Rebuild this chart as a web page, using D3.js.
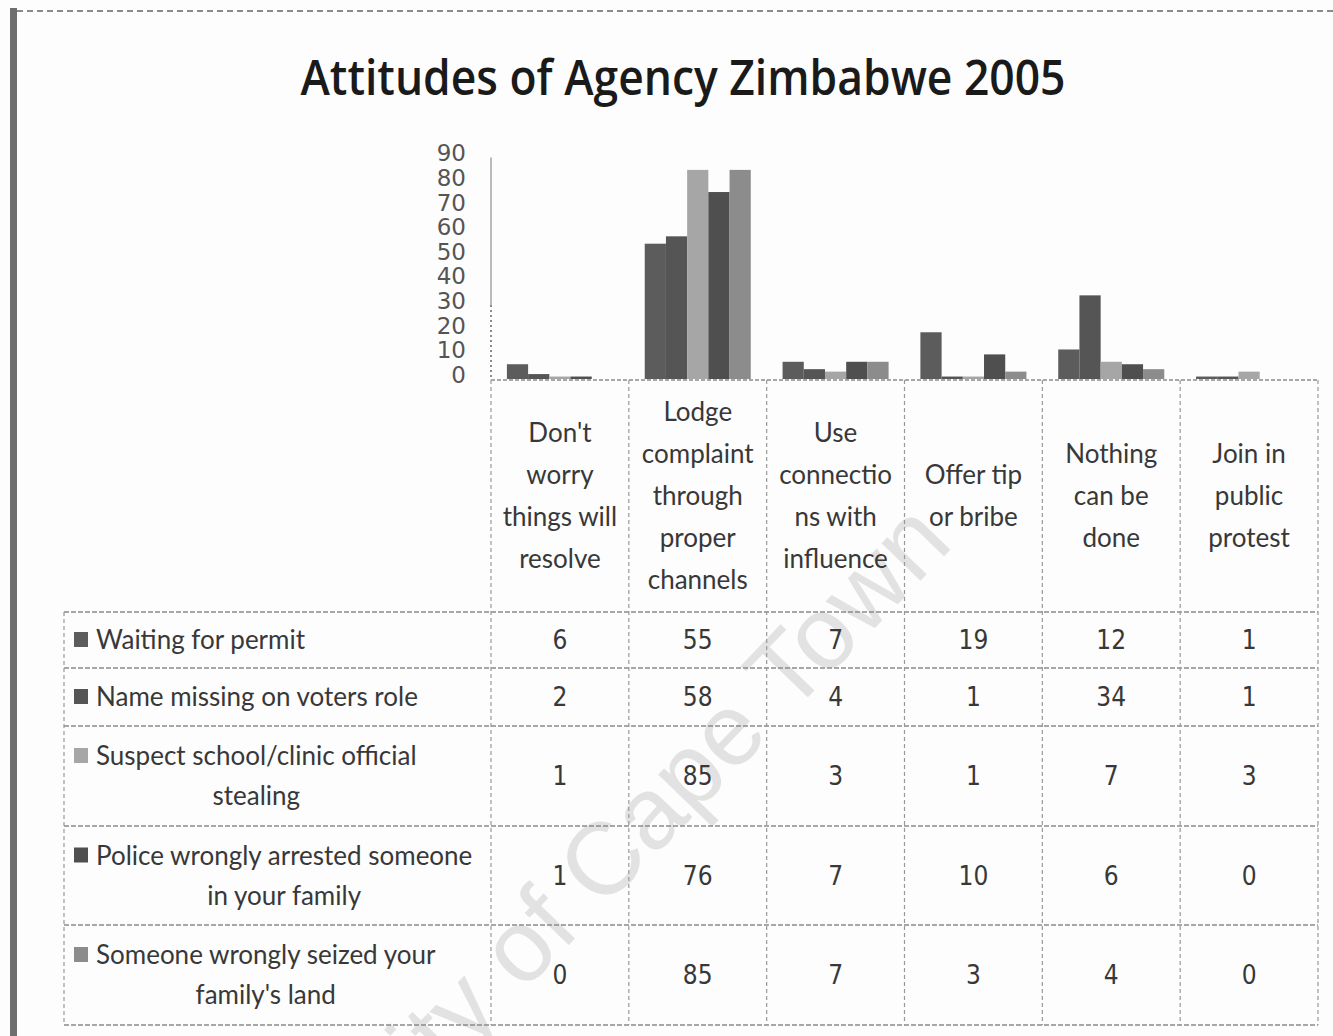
<!DOCTYPE html>
<html>
<head>
<meta charset="utf-8">
<script src="https://cdn.jsdelivr.net/npm/d3@7/dist/d3.min.js"></script>
<style>
  html, body { margin: 0; padding: 0; background: #fdfdfd; }
  svg { display: block; }
</style>
</head>
<body>
<svg id="chart" width="1333" height="1036"></svg>
<script>
// ---- data ----
const categories = [
  "Don't worry things will resolve",
  "Lodge complaint through proper channels",
  "Use connections with influence",
  "Offer tip or bribe",
  "Nothing can be done",
  "Join in public protest"
];
const categoryLines = [
  ["Don't", "worry", "things will", "resolve"],
  ["Lodge", "complaint", "through", "proper", "channels"],
  ["Use", "connectio", "ns with", "influence"],
  ["Offer tip", "or bribe"],
  ["Nothing", "can be", "done"],
  ["Join in", "public", "protest"]
];
const seriesNames = [
  "Waiting for permit",
  "Name missing on voters role",
  "Suspect school/clinic official stealing",
  "Police wrongly arrested someone in your family",
  "Someone wrongly seized your family's land"
];
const seriesLabelLines = [
  ["Waiting for permit"],
  ["Name missing on voters role"],
  ["Suspect school/clinic official", "stealing"],
  ["Police wrongly arrested someone", "in your family"],
  ["Someone wrongly seized your", "family's land"]
];
const waitingForPermit = [6, 55, 7, 19, 12, 1];
const nameMissing      = [2, 58, 4, 1, 34, 1];
const suspectOfficial  = [1, 85, 3, 1, 7, 3];
const policeArrest     = [1, 76, 7, 10, 6, 0];
const landSeized       = [0, 85, 7, 3, 4, 0];
const yTicks = [0, 10, 20, 30, 40, 50, 60, 70, 80, 90];

const seriesValues = [waitingForPermit, nameMissing, suspectOfficial, policeArrest, landSeized];
const seriesColors = ["#5c5c5c", "#555555", "#a6a6a6", "#4f4f4f", "#8c8c8c"];

// ---- layout ----
const svg = d3.select("#chart");
const W = 1333, H = 1036;
const plotLeft = 491, plotRight = 1318;
const baseY = 379;
const legendLeft = 64;
const headerTop = 380, headerBottom = 612;
const rowEdges = [612, 668, 726, 826, 925, 1025];
const labelFont = "Lato, 'Open Sans', sans-serif";
const numFont = "'DejaVu Sans Condensed', 'DejaVu Sans', sans-serif";
const textColor = "#383838";

const x0 = d3.scaleBand().domain(d3.range(categories.length)).range([plotLeft, plotRight]);
const x1 = d3.scaleBand().domain(d3.range(seriesNames.length))
  .range([0, x0.bandwidth()]).paddingInner(0).paddingOuter(0.75);
const y = d3.scaleLinear().domain([0, 90]).range([baseY, baseY - 90 * 2.46]);

svg.append("rect").attr("width", W).attr("height", H).attr("fill", "#fdfdfd");

// watermark
svg.append("text")
  .attr("transform", "translate(955,545) rotate(-46)")
  .attr("text-anchor", "end")
  .attr("font-family", "'Liberation Sans', Arial, sans-serif")
  .attr("font-size", 102)
  .attr("fill", "#e2e2e2")
  .text("University of Cape Town");

// page frame: left rule and dashed top edge
svg.append("rect").attr("x", 10).attr("y", 8).attr("width", 7).attr("height", H - 8).attr("fill", "#6e6e6e");
svg.append("line").attr("x1", 17).attr("x2", W).attr("y1", 11).attr("y2", 11)
  .attr("stroke", "#8a8a8a").attr("stroke-width", 2).attr("stroke-dasharray", "6,4");

// title
const title = svg.append("text")
  .attr("x", 683).attr("y", 95)
  .attr("text-anchor", "middle")
  .attr("font-family", "'Open Sans', Lato, sans-serif")
  .attr("font-weight", 600)
  .attr("font-size", 48)
  .attr("fill", "#1a1a1a")
  .text("Attitudes of Agency Zimbabwe 2005");
title.attr("textLength", 765).attr("lengthAdjust", "spacingAndGlyphs");

// y axis
const yAxis = d3.axisLeft(y).tickValues(yTicks).tickSize(0).tickPadding(0);
const yg = svg.append("g").attr("transform", "translate(466,-4)").call(yAxis);
yg.select(".domain").remove();
yg.selectAll("text")
  .attr("font-family", "'DejaVu Sans', sans-serif")
  .attr("font-size", 23)
  .attr("fill", "#555");

// axis line
svg.append("line").attr("x1", plotLeft).attr("x2", plotLeft).attr("y1", y(90)).attr("y2", 305)
  .attr("stroke", "#bbb").attr("stroke-width", 2);
svg.append("line").attr("x1", plotLeft).attr("x2", plotLeft).attr("y1", 305).attr("y2", headerTop)
  .attr("stroke", "#666").attr("stroke-width", 1.5).attr("stroke-dasharray", "2,3");

// bars
const groups = svg.append("g").selectAll("g")
  .data(categories.map((c, i) => i))
  .join("g")
  .attr("transform", i => `translate(${x0(i)},0)`);
groups.selectAll("rect")
  .data(i => seriesValues.map((vals, s) => ({ s, v: vals[i] })))
  .join("rect")
  .attr("x", d => x1(d.s))
  .attr("width", x1.bandwidth())
  .attr("y", d => y(d.v))
  .attr("height", d => baseY - y(d.v))
  .attr("fill", d => seriesColors[d.s]);

// ---- data table ----
const grid = svg.append("g").attr("fill", "none");
// horizontal rules
grid.append("line").attr("x1", plotLeft).attr("x2", plotRight).attr("y1", headerTop).attr("y2", headerTop)
  .attr("stroke", "#8a8a8a").attr("stroke-width", 1.5).attr("stroke-dasharray", "4,2");
rowEdges.forEach(yy => {
  grid.append("line").attr("x1", legendLeft).attr("x2", plotRight).attr("y1", yy).attr("y2", yy)
    .attr("stroke", "#8a8a8a").attr("stroke-width", 1.5).attr("stroke-dasharray", "5,2");
});
// vertical rules
const colEdges = d3.range(categories.length).map(i => x0(i)).concat([plotRight]);
colEdges.forEach(xx => {
  grid.append("line").attr("x1", xx).attr("x2", xx).attr("y1", headerTop).attr("y2", rowEdges[rowEdges.length - 1])
    .attr("stroke", "#999").attr("stroke-width", 1.2).attr("stroke-dasharray", "4,3");
});
grid.append("line").attr("x1", legendLeft).attr("x2", legendLeft).attr("y1", rowEdges[0]).attr("y2", rowEdges[rowEdges.length - 1])
  .attr("stroke", "#999").attr("stroke-width", 1.2).attr("stroke-dasharray", "4,3");

// category labels
const headerMid = (headerTop + headerBottom) / 2;
const lineH = 42;
categoryLines.forEach((lines, i) => {
  const cx = x0(i) + x0.bandwidth() / 2;
  const top = headerMid - (lines.length - 1) * lineH / 2;
  lines.forEach((ln, k) => {
    svg.append("text")
      .attr("x", cx).attr("y", top + k * lineH)
      .attr("dy", "0.35em")
      .attr("text-anchor", "middle")
      .attr("font-family", labelFont)
      .attr("font-size", 26)
      .attr("fill", textColor)
      .text(ln);
  });
});

// series labels with legend keys
const legLineH = 40;
seriesLabelLines.forEach((lines, s) => {
  const mid = (rowEdges[s] + rowEdges[s + 1]) / 2;
  const top = mid - (lines.length - 1) * legLineH / 2;
  svg.append("rect").attr("x", 74).attr("y", top - 8).attr("width", 14).attr("height", 15)
    .attr("fill", seriesColors[s]);
  const first = svg.append("text")
    .attr("x", 96).attr("y", top).attr("dy", "0.35em")
    .attr("font-family", labelFont).attr("font-size", 26).attr("fill", textColor)
    .text(lines[0]);
  const w = first.node().getComputedTextLength();
  lines.slice(1).forEach((ln, k) => {
    svg.append("text")
      .attr("x", 96 + w / 2).attr("y", top + (k + 1) * legLineH).attr("dy", "0.35em")
      .attr("text-anchor", "middle")
      .attr("font-family", labelFont).attr("font-size", 26).attr("fill", textColor)
      .text(ln);
  });
});

// values
seriesValues.forEach((vals, s) => {
  const mid = (rowEdges[s] + rowEdges[s + 1]) / 2;
  vals.forEach((v, i) => {
    svg.append("text")
      .attr("x", x0(i) + x0.bandwidth() / 2).attr("y", mid).attr("dy", "0.35em")
      .attr("text-anchor", "middle")
      .attr("font-family", numFont).attr("font-size", 26).attr("fill", textColor)
      .text(v);
  });
});
</script>
</body>
</html>
